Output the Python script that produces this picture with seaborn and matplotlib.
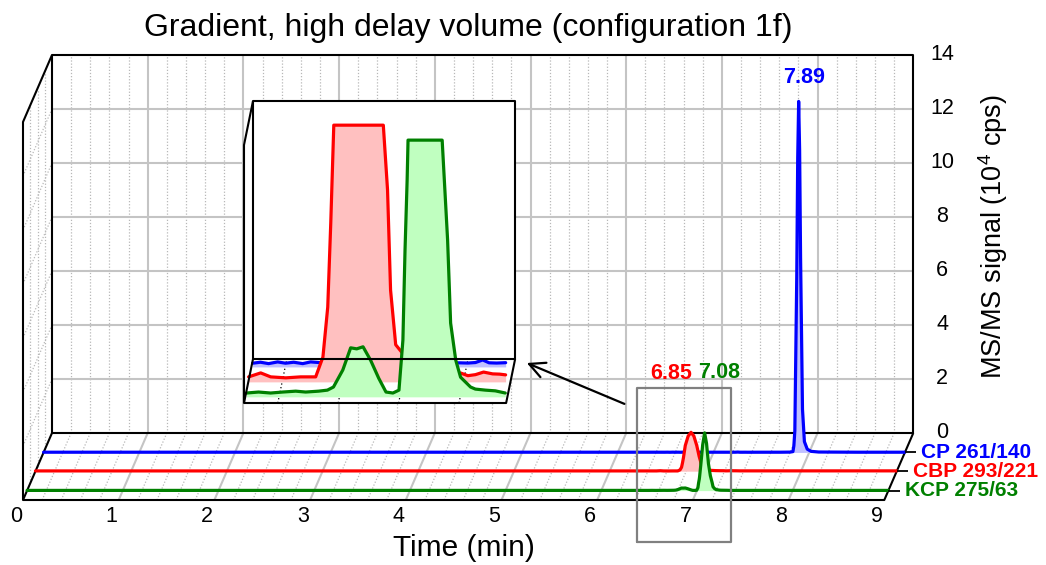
import numpy as np
import matplotlib
matplotlib.use("Agg")
import matplotlib.pyplot as plt
import seaborn as sns

sns.set_style("white")
plt.rcParams["font.family"] = ["Liberation Sans", "DejaVu Sans"]
plt.rcParams["text.color"] = "black"
plt.rcParams["mathtext.fontset"] = "custom"
plt.rcParams["mathtext.rm"] = "Liberation Sans"
plt.rcParams["mathtext.it"] = "Liberation Sans:italic"
plt.rcParams["mathtext.bf"] = "Liberation Sans:bold"

# ---- data (time in min, signal in 10^4 cps) ----
TRACE_NAMES = ["CP 261/140", "CBP 293/221", "KCP 275/63"]
PEAK_LABELS = ["7.89", "6.85", "7.08"]
PEAK_TIMES = [7.89, 6.85, 7.08]

cp_time = [0.0, 1.0, 2.0, 3.0, 4.0, 5.0, 6.0, 6.40,
           6.492, 6.518, 6.545, 6.575, 6.601, 6.628, 6.658, 6.684, 6.717,
           6.78, 6.86, 6.94, 7.02, 7.10, 7.18, 7.205, 7.23, 7.254, 7.275,
           7.30, 7.33, 7.36, 7.50, 7.70, 7.80, 7.83, 7.84, 7.85, 7.87, 7.88,
           7.89, 7.90, 7.91, 7.93, 7.95, 7.98, 8.02, 8.10, 8.50, 9.0]
cp_signal = [0.008, 0.008, 0.008, 0.008, 0.008, 0.008, 0.008, 0.008,
             0.0072, 0.0091, 0.0064, 0.0097, 0.0072, 0.0091, 0.0064, 0.0097, 0.0083,
             0.008, 0.0085, 0.0078, 0.0082, 0.008, 0.0079, 0.0075, 0.0085, 0.0135, 0.008,
             0.0075, 0.0082, 0.007, 0.008, 0.008, 0.012, 0.03, 0.25, 0.8, 6.5, 10.9,
             13.0, 11.2, 7.2, 1.6, 0.4, 0.12, 0.04, 0.015, 0.008, 0.008]

cbp_time = [0.0, 1.0, 2.0, 3.0, 4.0, 5.0, 6.0, 6.40,
            6.489, 6.529, 6.562, 6.612, 6.661, 6.711, 6.735, 6.751, 6.761, 6.771,
            6.79, 6.82, 6.85, 6.88, 6.91, 6.935, 6.949, 6.959, 6.976, 6.998,
            7.03, 7.07, 7.11, 7.15, 7.192, 7.215, 7.24, 7.267, 7.297, 7.32, 7.34,
            7.36, 7.50, 8.0, 8.5, 9.0]
cbp_signal = [0.01, 0.01, 0.01, 0.01, 0.01, 0.01, 0.01, 0.01,
              0.0097, 0.0174, 0.0097, 0.0078, 0.0097, 0.0097, 0.048, 0.145, 0.308, 0.50,
              0.95, 1.30, 1.44, 1.30, 0.95, 0.55, 0.372, 0.178, 0.072, 0.056,
              0.040, 0.028, 0.021, 0.018, 0.017, 0.012, 0.014, 0.019, 0.0155, 0.015, 0.0136,
              0.012, 0.012, 0.012, 0.012, 0.012]

kcp_time = [0.0, 1.0, 2.0, 3.0, 4.0, 5.0, 6.0, 6.40,
            6.492, 6.532, 6.572, 6.612, 6.655, 6.688, 6.731, 6.760,
            6.780, 6.811, 6.837, 6.857, 6.878, 6.903, 6.930, 6.954, 6.977, 6.997,
            7.010, 7.017, 7.024, 7.027, 7.04, 7.06, 7.08, 7.10, 7.12, 7.14,
            7.158, 7.168, 7.185, 7.201, 7.234, 7.250, 7.283, 7.316, 7.349,
            7.40, 8.0, 8.5, 9.0]
kcp_signal = [0.008, 0.008, 0.008, 0.008, 0.008, 0.008, 0.008, 0.008,
              0.0074, 0.0093, 0.0074, 0.0093, 0.011, 0.0093, 0.011, 0.013,
              0.019, 0.052, 0.095, 0.093, 0.097, 0.071, 0.036, 0.0093, 0.0074, 0.013,
              0.11, 0.284, 0.42, 0.50, 0.95, 1.70, 2.14, 1.75, 1.00, 0.55,
              0.304, 0.143, 0.071, 0.038, 0.019, 0.015, 0.013, 0.0116, 0.0074,
              0.008, 0.008, 0.008, 0.008]

X_TICKS = [0, 1, 2, 3, 4, 5, 6, 7, 8, 9]
Y_TICKS = [0, 2, 4, 6, 8, 10, 12, 14]
T_MAX = 9
S_MAX = 14
ZOOM_T = (6.488, 7.356)
ZOOM_S = 0.5
BOX_T = (6.416, 7.398)
BOX_S = (-1.55, 4.15)

TRACES = [(cp_time, cp_signal), (cbp_time, cbp_signal), (kcp_time, kcp_signal)]
LINE_COLORS = ["#0000FF", "#FF0000", "#008000"]
FILL_COLORS = ["#C0C0FF", "#FFC0C0", "#C0FFC0"]
MAIN_DEPTH = [0.71, 0.43, 0.14]
ZOOM_DEPTH = [0.82, 0.48, 0.14]
GRID = "#C4C4C4"
DOT = "#B8B8B8"


def main_xy(t, d, s):
    """Oblique projection of (time, depth, signal) onto figure pixels."""
    t = np.asarray(t, dtype=float)
    s = np.asarray(s, dtype=float)
    return 23 + 95.7 * t + 29 * d, 500 - 67 * d - 27 * s


def zoom_xy(t, d, s):
    t = np.asarray(t, dtype=float)
    s = np.asarray(s, dtype=float)
    return 244 + 302 * (t - ZOOM_T[0]) + 9 * d, 403 - 44 * d - (258 / ZOOM_S) * s


def seg(ax, proj, pts, **kw):
    xs, ys = zip(*[proj(*p) for p in pts])
    ax.plot(xs, ys, solid_capstyle="butt", **kw)


fig = plt.figure(figsize=(10.46, 5.65), dpi=100)
ax = fig.add_axes([0, 0, 1, 1])
ax.set_xlim(0, 1046)
ax.set_ylim(565, 0)
ax.axis("off")

# ---- main box: grid ----
minor = [m / 5 for m in range(1, T_MAX * 5) if m % 5]
for t in minor:
    seg(ax, main_xy, [(t, 1, 0), (t, 1, S_MAX)], color=DOT, lw=0.9, ls=(0, (1, 1.5)), zorder=1)
    seg(ax, main_xy, [(t, 0, 0), (t, 1, 0)], color=DOT, lw=0.9, ls=(0, (1, 1.5)), zorder=1)
for t in X_TICKS[1:-1]:
    seg(ax, main_xy, [(t, 1, 0), (t, 1, S_MAX)], color=GRID, lw=1.5, zorder=1)
    seg(ax, main_xy, [(t, 0, 0), (t, 1, 0)], color=GRID, lw=1.5, zorder=1)
for s in Y_TICKS[1:-1]:
    seg(ax, main_xy, [(0, 1, s), (T_MAX, 1, s)], color=GRID, lw=1.5, zorder=1)
for s in Y_TICKS[1:-1]:
    seg(ax, main_xy, [(0, 0, s), (0, 1, s)], color=DOT, lw=0.9, ls=(0, (1, 1.5)), zorder=1)
for d in [0.25, 0.5, 0.75]:
    seg(ax, main_xy, [(0, d, 0), (0, d, S_MAX)], color=DOT, lw=0.9, ls=(0, (1, 1.5)), zorder=1)

# ---- main box: edges ----
edge = dict(color="black", lw=1.5, zorder=2)
seg(ax, main_xy, [(0, 1, 0), (T_MAX, 1, 0), (T_MAX, 1, S_MAX), (0, 1, S_MAX), (0, 1, 0)], **edge)
seg(ax, main_xy, [(0, 1, S_MAX), (0, 0, S_MAX), (0, 0, 0), (T_MAX, 0, 0), (T_MAX, 1, 0)], **edge)
seg(ax, main_xy, [(0, 0, 0), (0, 1, 0)], **edge)

# ---- main traces ----
for (tt, ss), lc, fc, d, name in zip(TRACES, LINE_COLORS, FILL_COLORS, MAIN_DEPTH, TRACE_NAMES):
    x, y = main_xy(tt, d, ss)
    _, y0 = main_xy(tt, d, np.zeros(len(tt)))
    ax.fill_between(x, y0, y, color=fc, lw=0, zorder=3)
    sns.lineplot(x=x, y=y, sort=False, estimator=None, color=lc, lw=2.3, ax=ax, zorder=3)
    seg(ax, main_xy, [(T_MAX, d, 0), (T_MAX + 0.12, d, 0)], color="black", lw=1.3, zorder=3)
    lx, ly = main_xy(T_MAX + 0.17, d, 0)
    ax.text(lx, ly, name, color=lc, fontsize=15, fontweight="bold", ha="left", va="center")

# peak labels
offsets = [(5, 24), (-20, 59), (15, 60)]
for (tt, ss), lc, d, pt, lab, off in zip(TRACES, LINE_COLORS, MAIN_DEPTH, PEAK_TIMES, PEAK_LABELS, offsets):
    px, py = main_xy(pt, d, np.interp(pt, tt, ss))
    ax.annotate(lab, (px, py), xytext=off, textcoords="offset pixels", color=lc,
                fontsize=15.5, fontweight="bold", ha="center", va="center", zorder=8)

# tick labels
for t in X_TICKS:
    x, y = main_xy(t, -0.25, 0)
    ax.text(x, y, str(t), fontsize=15.5, ha="center", va="center", color="black")
for s in Y_TICKS:
    x, y = main_xy(T_MAX + 0.3, 1, s)
    ax.text(x, y, str(s), fontsize=15.5, ha="center", va="center", color="black")

fig.text(468 / 1046, 1 - 28 / 565, "Gradient, high delay volume (configuration 1f)",
         fontsize=23, ha="center", va="center", color="black")
fig.text(464 / 1046, 1 - 548 / 565, "Time (min)", fontsize=21.5, ha="center", va="center",
         color="black")
fig.text(993 / 1046, 1 - 237 / 565, r"MS/MS signal (10$^{4}$ cps)", fontsize=19.5,
         rotation=90, ha="center", va="center", color="black")

# ---- zoom window marker and arrow ----
bx = [BOX_T[0], BOX_T[1], BOX_T[1], BOX_T[0], BOX_T[0]]
by = [BOX_S[0], BOX_S[0], BOX_S[1], BOX_S[1], BOX_S[0]]
x, y = main_xy(bx, 0, by)
ax.plot(x, y, color="#808080", lw=1.6, zorder=6)
tip = zoom_xy(ZOOM_T[1] + 0.045, 0.5, 0.037)
tail = main_xy(BOX_T[0] - 0.105, 0, 3.52)
ax.annotate("", xy=tip, xytext=tail,
            arrowprops=dict(arrowstyle="->", color="black", lw=1.6, mutation_scale=28), zorder=8)

# ---- inset (zoomed region) ----
t0, t1 = ZOOM_T
corners = [(t0, 0, 0), (t1, 0, 0), (t1, 1, 0), (t1, 1, ZOOM_S), (t0, 1, ZOOM_S), (t0, 0, ZOOM_S)]
px, py = zip(*[zoom_xy(*c) for c in corners])
ax.fill(px, py, color="white", zorder=5)
for t in [6.6, 6.8, 7.0, 7.2]:
    seg(ax, zoom_xy, [(t, 0, 0), (t, 1, 0)], color="black", lw=0.9, ls=(0, (1, 2)), zorder=5)

for (tt, ss), lc, fc, d in zip(TRACES, LINE_COLORS, FILL_COLORS, ZOOM_DEPTH):
    tt = np.asarray(tt)
    ss = np.asarray(ss)
    keep = (tt >= t0 - 1e-6) & (tt <= t1 + 1e-6)
    tz = tt[keep]
    sz = np.minimum(ss[keep], ZOOM_S * 0.995)
    x, y = zoom_xy(tz, d, sz)
    _, y0 = zoom_xy(tz, d, np.zeros(len(tz)))
    ax.fill_between(x, y0, y, color=fc, lw=0, zorder=5)
    ax.plot(x, y, color=lc, lw=2.3, zorder=5)

iedge = dict(color="black", lw=1.5, zorder=6)
seg(ax, zoom_xy, [(t0, 1, 0), (t1, 1, 0), (t1, 1, ZOOM_S), (t0, 1, ZOOM_S), (t0, 1, 0)], **iedge)
seg(ax, zoom_xy, [(t0, 1, ZOOM_S), (t0, 0, ZOOM_S), (t0, 0, 0), (t1, 0, 0), (t1, 1, 0)], **iedge)
seg(ax, zoom_xy, [(t0, 0, 0), (t0, 1, 0)], **iedge)

fig.savefig("out.png", dpi=100)
